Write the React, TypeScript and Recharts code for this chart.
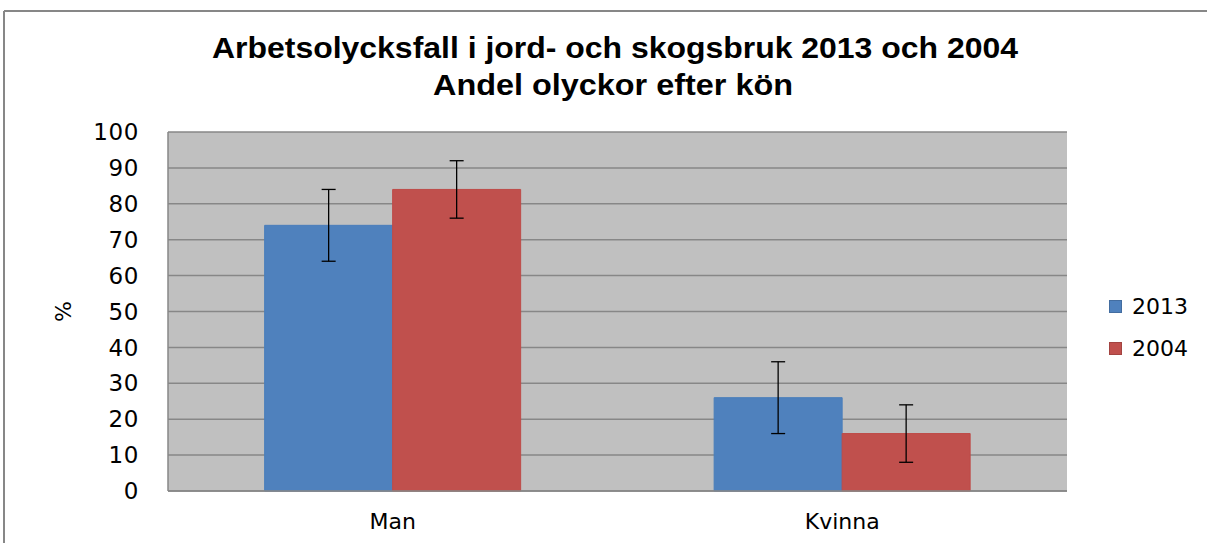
import React from "react"
import { BarChart, Bar, XAxis, YAxis, CartesianGrid, ErrorBar } from "recharts"

// Values
const categories = ["Man", "Kvinna"]
const values2013 = [74, 26]
const values2004 = [84, 16]
const errors2013 = [10, 10]
const errors2004 = [8, 8]
const yTicks = [0, 10, 20, 30, 40, 50, 60, 70, 80, 90, 100]
const seriesNames = ["2013", "2004"]

const titleLine1 = "Arbetsolycksfall i jord- och skogsbruk 2013 och 2004"
const titleLine2 = "Andel olyckor efter kön"

const BLUE = "#4F81BD"
const RED = "#C0504D"
const GRID = "#878787"
const TICK_FONT = "'DejaVu Sans', Verdana, sans-serif"
const seriesColors = [BLUE, RED]

const data = categories.map((name, i) => ({
  name,
  v2013: values2013[i],
  v2004: values2004[i],
  e2013: errors2013[i],
  e2004: errors2004[i],
}))

// legend drawn next to the plot, one row per series
const LegendBox = () => (
  <div style={{ position: "absolute", left: 1109, top: 285, fontFamily: TICK_FONT, fontSize: 22, color: "#000" }}>
    {seriesNames.map((name, i) => (
      <div key={name} style={{ display: "flex", alignItems: "center", height: 42 }}>
        <span
          style={{
            display: "inline-block",
            width: 13,
            height: 13,
            boxSizing: "border-box",
            background: seriesColors[i],
            border: "1px solid rgba(0,0,0,0.15)",
            marginRight: 10,
          }}
        />
        <span>{name}</span>
      </div>
    ))}
  </div>
)

export default function App() {
  return (
    <div style={{ position: "absolute", left: 0, top: 0, width: 1207, height: 543, background: "#fff" }}>
      <svg width={1207} height={543} style={{ position: "absolute", left: 0, top: 0 }}>
        <line x1={4} y1={11} x2={1207} y2={11} stroke={GRID} strokeWidth={2} />
        <line x1={4} y1={11} x2={4} y2={543} stroke={GRID} strokeWidth={2} />
        <text
          x={615}
          y={58}
          textAnchor="middle"
          fontFamily="'Liberation Sans Narrow', 'Liberation Sans', sans-serif"
          fontWeight="bold"
          fontSize={29}
          textLength={806}
          lengthAdjust="spacingAndGlyphs"
        >
          {titleLine1}
        </text>
        <text
          x={613}
          y={95}
          textAnchor="middle"
          fontFamily="'Liberation Sans Narrow', 'Liberation Sans', sans-serif"
          fontWeight="bold"
          fontSize={29}
          textLength={360}
          lengthAdjust="spacingAndGlyphs"
        >
          {titleLine2}
        </text>
      </svg>
      <div style={{ position: "absolute", left: 0, top: 0 }}>
        <BarChart
          width={1207}
          height={543}
          data={data}
          margin={{ top: 132, right: 140, bottom: 0, left: 0 }}
          barCategoryGap="21.5%"
          barGap={0}
        >
          <CartesianGrid vertical={false} stroke={GRID} strokeWidth={1.5} fill="#C0C0C0" />
          <XAxis
            dataKey="name"
            height={52}
            tickLine={false}
            axisLine={{ stroke: GRID, strokeWidth: 1.5 }}
            tick={{ fill: "#000", fontSize: 22, fontFamily: TICK_FONT }}
            tickMargin={16}
          />
          <YAxis
            width={168}
            domain={[0, 100]}
            ticks={yTicks}
            interval={0}
            tickLine={false}
            axisLine={{ stroke: GRID, strokeWidth: 1.5 }}
            tick={{ fill: "#000", fontSize: 23, fontFamily: TICK_FONT, letterSpacing: 0.6 }}
            tickMargin={23}
            label={{
              value: "%",
              angle: -90,
              position: "insideLeft",
              offset: 63,
              style: { textAnchor: "middle", fill: "#000", fontSize: 22, fontFamily: TICK_FONT },
            }}
          />
          <Bar dataKey="v2013" name={seriesNames[0]} fill={BLUE} stroke="#4A7EBB" strokeWidth={1} isAnimationActive={false}>
            <ErrorBar dataKey="e2013" width={7} stroke="#000" strokeWidth={1.3} direction="y" />
          </Bar>
          <Bar dataKey="v2004" name={seriesNames[1]} fill={RED} stroke="#BE4B48" strokeWidth={1} isAnimationActive={false}>
            <ErrorBar dataKey="e2004" width={7} stroke="#000" strokeWidth={1.3} direction="y" />
          </Bar>
        </BarChart>
      </div>
      <LegendBox />
    </div>
  )
}
